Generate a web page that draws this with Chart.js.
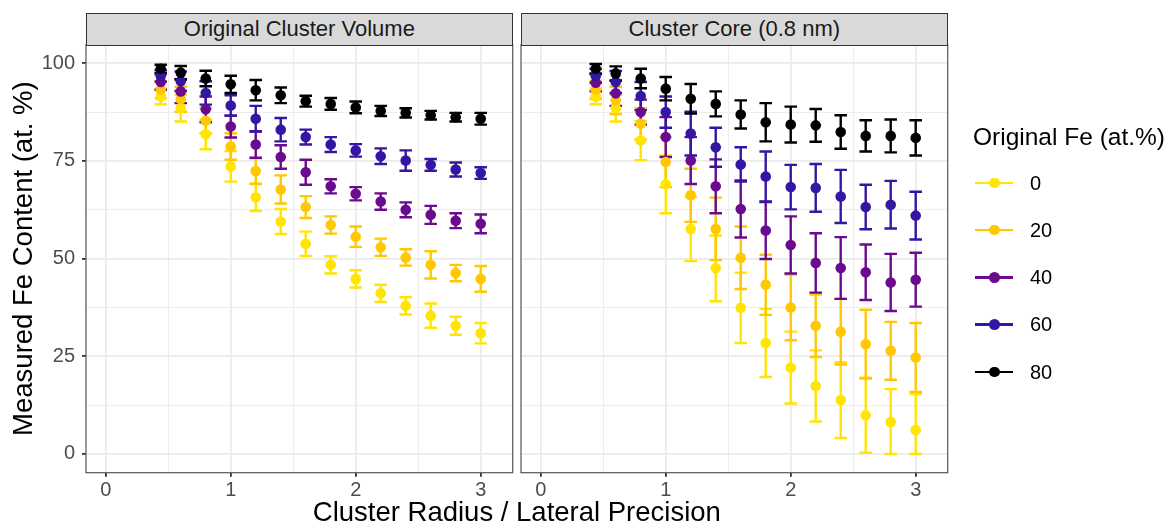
<!DOCTYPE html>
<html>
<head>
<meta charset="utf-8">
<script src="https://cdn.jsdelivr.net/npm/chart.js@4"></script>
<style>
html,body{margin:0;padding:0;background:#fff;}
body{width:1167px;height:526px;position:relative;overflow:hidden;font-family:"Liberation Sans",Arial,sans-serif;}
canvas{position:absolute;top:0;left:0;}
.strip{position:absolute;background:#D9D9D9;border:1px solid #333;box-sizing:border-box;display:flex;align-items:center;justify-content:center;color:#1A1A1A;font-size:22px;}
.xtitle{position:absolute;left:0;width:1034px;top:498px;text-align:center;font-size:27.5px;line-height:27.5px;color:#000;white-space:nowrap;}
.legtitle{position:absolute;left:973px;top:125px;font-size:24.5px;line-height:24.5px;color:#000;white-space:nowrap;}
.legitem{position:absolute;left:975px;width:190px;height:20px;}
.legline{position:absolute;left:0;top:9px;width:38px;height:2.6px;}
.legdot{position:absolute;left:14px;top:5px;width:10.6px;height:10.6px;border-radius:50%;}
.leglab{position:absolute;left:55px;top:0;font-size:20px;line-height:20px;color:#000;}
</style>
</head>
<body>
<canvas id="c1" width="1167" height="526"></canvas>
<canvas id="c2" width="1167" height="526"></canvas>
<div class="strip" id="s1"></div>
<div class="strip" id="s2"></div>
<div class="xtitle" id="xt"></div>
<div id="legend"></div>
<script>
// ---------------- data ----------------
const xValues = [0.44, 0.6, 0.8, 1.0, 1.2, 1.4, 1.6, 1.8, 2.0, 2.2, 2.4, 2.6, 2.8, 3.0];
const seriesNames = ['0', '20', '40', '60', '80'];
const seriesColors = ['#FFE500', '#FFC800', '#6A0A8E', '#3516A2', '#000000'];
const panelTitles = ['Original Cluster Volume', 'Cluster Core (0.8 nm)'];
const xAxisTitle = 'Cluster Radius / Lateral Precision';
const yAxisTitle = 'Measured Fe Content (at. %)';
const legendTitle = 'Original Fe (at.%)';

// Panel 1: Original Cluster Volume
const vol0     = [91.5, 88.5, 81.8, 73.6, 65.7, 59.5, 53.8, 48.4, 44.8, 41.1, 37.9, 35.4, 32.8, 30.9];
const vol0Err  = [2.0, 3.4, 3.8, 3.9, 3.5, 3.2, 3.1, 2.2, 2.2, 2.2, 2.2, 3.1, 2.3, 2.6];
const vol20    = [93.2, 90.8, 85.3, 78.7, 72.4, 67.7, 63.2, 58.6, 55.6, 52.9, 50.3, 48.4, 46.3, 44.8];
const vol20Err = [2.2, 3.2, 3.2, 3.4, 3.3, 3.6, 2.8, 2.2, 2.6, 2.2, 2.1, 3.5, 2.1, 3.3];
const vol40    = [95.2, 92.8, 88.2, 83.8, 79.2, 76.0, 72.1, 68.5, 66.6, 64.6, 62.5, 61.2, 59.7, 58.9];
const vol40Err = [2.0, 3.0, 3.3, 2.8, 3.4, 3.0, 3.2, 1.8, 1.7, 2.1, 1.9, 2.3, 1.9, 2.4];
const vol60    = [96.8, 95.4, 92.4, 89.2, 85.8, 83.0, 81.1, 79.2, 77.7, 76.2, 75.1, 74.0, 72.8, 71.9];
const vol60Err = [1.5, 2.5, 3.0, 2.6, 3.3, 3.0, 1.9, 1.9, 1.6, 2.0, 2.6, 1.5, 1.8, 1.5];
const vol80    = [98.6, 97.6, 96.1, 94.6, 93.1, 91.8, 90.3, 89.6, 88.7, 87.8, 87.3, 86.7, 86.2, 85.8];
const vol80Err = [1.0, 1.7, 2.0, 2.2, 2.6, 2.0, 1.4, 1.5, 1.5, 1.3, 1.2, 1.1, 1.1, 1.5];

// Panel 2: Cluster Core (0.8 nm)
const core0     = [91.5, 88.5, 80.2, 69.0, 57.6, 47.5, 37.4, 28.4, 22.1, 17.4, 13.8, 9.9, 8.2, 6.1];
const core0Err  = [2.0, 3.4, 5.0, 7.4, 8.2, 8.4, 9.0, 8.7, 9.2, 9.1, 9.7, 9.6, 8.4, 9.2];
const core20    = [93.2, 90.5, 84.5, 74.7, 66.2, 57.6, 50.2, 43.3, 37.5, 32.8, 31.3, 28.1, 26.4, 24.7];
const core20Err = [2.3, 3.5, 4.0, 6.4, 6.8, 8.0, 8.0, 7.7, 8.4, 8.0, 8.4, 8.8, 7.4, 8.8];
const core40    = [95.0, 92.3, 87.5, 81.1, 75.1, 68.5, 62.7, 57.2, 53.5, 48.9, 47.6, 46.5, 43.9, 44.6];
const core40Err = [2.2, 3.2, 3.2, 5.1, 6.0, 6.9, 7.3, 7.3, 7.3, 7.6, 7.9, 7.1, 7.3, 6.9];
const core60    = [96.8, 95.2, 91.6, 87.5, 82.0, 78.5, 74.1, 71.0, 68.3, 68.1, 65.9, 63.2, 63.8, 61.0];
const core60Err = [1.8, 2.8, 3.6, 4.0, 5.6, 5.0, 4.4, 6.4, 5.7, 6.1, 6.8, 5.7, 6.1, 6.1];
const core80    = [98.6, 97.4, 96.1, 93.5, 90.9, 89.6, 86.9, 84.9, 84.3, 84.1, 82.4, 81.4, 81.4, 80.9];
const core80Err = [1.2, 1.8, 2.5, 3.0, 3.8, 3.2, 3.6, 4.9, 4.6, 4.2, 4.3, 4.0, 4.2, 4.5];

const xTicks = [0, 0.5, 1, 1.5, 2, 2.5, 3];
const xTickLabels = [0, 1, 2, 3];
const yTicks = [0, 12.5, 25, 37.5, 50, 62.5, 75, 87.5, 100];
const yTickLabels = [0, 25, 50, 75, 100];

// ---------------- layout / style ----------------
const X_MIN = -0.158, X_MAX = 3.256, Y_MIN = -4.8, Y_MAX = 104.8;
const W = 1167, H = 526;
const PANEL_TOP = 44.5, PANEL_BOTTOM = 472.7;
const P1 = {left: 86, right: 512.7};
const P2 = {left: 521, right: 947.7};
const CAP_HALF = 0.05;
const FONT = '"Liberation Sans", Arial, sans-serif';

const panelSeries = [
  [[vol0, vol0Err], [vol20, vol20Err], [vol40, vol40Err], [vol60, vol60Err], [vol80, vol80Err]],
  [[core0, core0Err], [core20, core20Err], [core40, core40Err], [core60, core60Err], [core80, core80Err]]
];

const errorBarPlugin = {
  id: 'errorBars',
  beforeDatasetsDraw(chart) {
    const ctx = chart.ctx, xs = chart.scales.x, ys = chart.scales.y;
    ctx.save();
    chart.data.datasets.forEach(ds => {
      ctx.strokeStyle = ds.borderColor;
      ctx.lineWidth = 2.4;
      ctx.lineCap = 'butt';
      ds.data.forEach((p, i) => {
        const e = ds.errors[i];
        const lo = Math.max(0, p.y - e), hi = p.y + e;
        const px = xs.getPixelForValue(p.x);
        const pl = xs.getPixelForValue(p.x - CAP_HALF), pr = xs.getPixelForValue(p.x + CAP_HALF);
        const yl = ys.getPixelForValue(lo), yh = ys.getPixelForValue(hi);
        ctx.beginPath();
        ctx.moveTo(px, yl); ctx.lineTo(px, yh);
        ctx.moveTo(pl, yl); ctx.lineTo(pr, yl);
        ctx.moveTo(pl, yh); ctx.lineTo(pr, yh);
        ctx.stroke();
      });
    });
    ctx.restore();
  }
};

const borderPlugin = {
  id: 'panelBorder',
  afterDraw(chart) {
    const a = chart.chartArea, ctx = chart.ctx;
    ctx.save();
    ctx.strokeStyle = '#555555';
    ctx.lineWidth = 1.2;
    ctx.strokeRect(a.left, a.top, a.right - a.left, a.bottom - a.top);
    ctx.restore();
  }
};

function makeChart(canvasId, panelIdx, panel) {
  const datasets = panelSeries[panelIdx].map(([vals, errs], i) => ({
    label: seriesNames[i],
    data: xValues.map((x, j) => ({x: x, y: vals[j]})),
    errors: errs,
    backgroundColor: seriesColors[i],
    borderColor: seriesColors[i],
    pointRadius: 5.3,
    pointBorderWidth: 0,
    pointHoverRadius: 5.3,
    order: seriesNames.length - 1 - i
  }));
  const isFirst = panelIdx === 0;
  const Y_AXIS_W = 86;
  return new Chart(document.getElementById(canvasId), {
    type: 'scatter',
    data: {datasets},
    plugins: [errorBarPlugin, borderPlugin],
    options: {
      responsive: false,
      animation: false,
      events: [],
      layout: {
        padding: {
          left: isFirst ? 0 : panel.left,
          right: W - panel.right,
          top: PANEL_TOP,
          bottom: H - PANEL_BOTTOM - 30
        }
      },
      plugins: {legend: {display: false}, tooltip: {enabled: false}},
      scales: {
        x: {
          type: 'linear',
          min: X_MIN, max: X_MAX,
          afterBuildTicks: s => { s.ticks = xTicks.map(v => ({value: v})); },
          afterFit: s => { s.height = 30; },
          border: {display: false},
          grid: {
            color: '#EBEBEB',
            lineWidth: c => (c.tick && xTickLabels.includes(c.tick.value)) ? 1.8 : 0.9,
            tickColor: c => (c.tick && xTickLabels.includes(c.tick.value)) ? '#333333' : 'rgba(0,0,0,0)',
            tickLength: 4,
            drawTicks: true
          },
          ticks: {
            autoSkip: false, maxRotation: 0,
            padding: 2,
            color: '#4D4D4D',
            font: {family: FONT, size: 20},
            callback: v => xTickLabels.includes(v) ? String(v) : ''
          }
        },
        y: {
          type: 'linear',
          min: Y_MIN, max: Y_MAX,
          afterBuildTicks: s => { s.ticks = yTicks.map(v => ({value: v})); },
          afterFit: s => { s.width = isFirst ? Y_AXIS_W : 0; },
          border: {display: false},
          grid: {
            color: '#EBEBEB',
            lineWidth: c => (c.tick && yTickLabels.includes(c.tick.value)) ? 1.8 : 0.9,
            tickColor: c => (c.tick && yTickLabels.includes(c.tick.value)) ? '#333333' : 'rgba(0,0,0,0)',
            tickLength: 4,
            drawTicks: isFirst
          },
          ticks: {
            display: isFirst,
            padding: 7,
            color: '#4D4D4D',
            font: {family: FONT, size: 20},
            callback: v => yTickLabels.includes(v) ? String(v) : ''
          },
          title: {
            display: isFirst,
            text: yAxisTitle,
            color: '#000000',
            font: {family: FONT, size: 27.5},
            padding: {top: 8, bottom: 0}
          }
        }
      }
    }
  });
}

makeChart('c1', 0, P1);
makeChart('c2', 1, P2);

// strips
[[document.getElementById('s1'), P1], [document.getElementById('s2'), P2]].forEach(([el, p], i) => {
  el.textContent = panelTitles[i];
  el.style.left = p.left + 'px';
  el.style.width = (p.right - p.left) + 'px';
  el.style.top = '12.5px';
  el.style.height = (PANEL_TOP - 12.5 + 1) + 'px';
});

// x axis title centered across both panels
const xt = document.getElementById('xt');
xt.textContent = xAxisTitle;
xt.style.left = P1.left + 'px';
xt.style.width = (P2.right - P1.left) + 'px';

// legend
const leg = document.getElementById('legend');
const lt = document.createElement('div');
lt.className = 'legtitle';
lt.textContent = legendTitle;
leg.appendChild(lt);
seriesNames.forEach((name, i) => {
  const item = document.createElement('div');
  item.className = 'legitem';
  item.style.top = (172.5 + i * 47.3) + 'px';
  const line = document.createElement('div');
  line.className = 'legline';
  line.style.background = seriesColors[i];
  const dot = document.createElement('div');
  dot.className = 'legdot';
  dot.style.background = seriesColors[i];
  const lab = document.createElement('div');
  lab.className = 'leglab';
  lab.textContent = name;
  item.appendChild(line); item.appendChild(dot); item.appendChild(lab);
  leg.appendChild(item);
});
</script>
</body>
</html>
